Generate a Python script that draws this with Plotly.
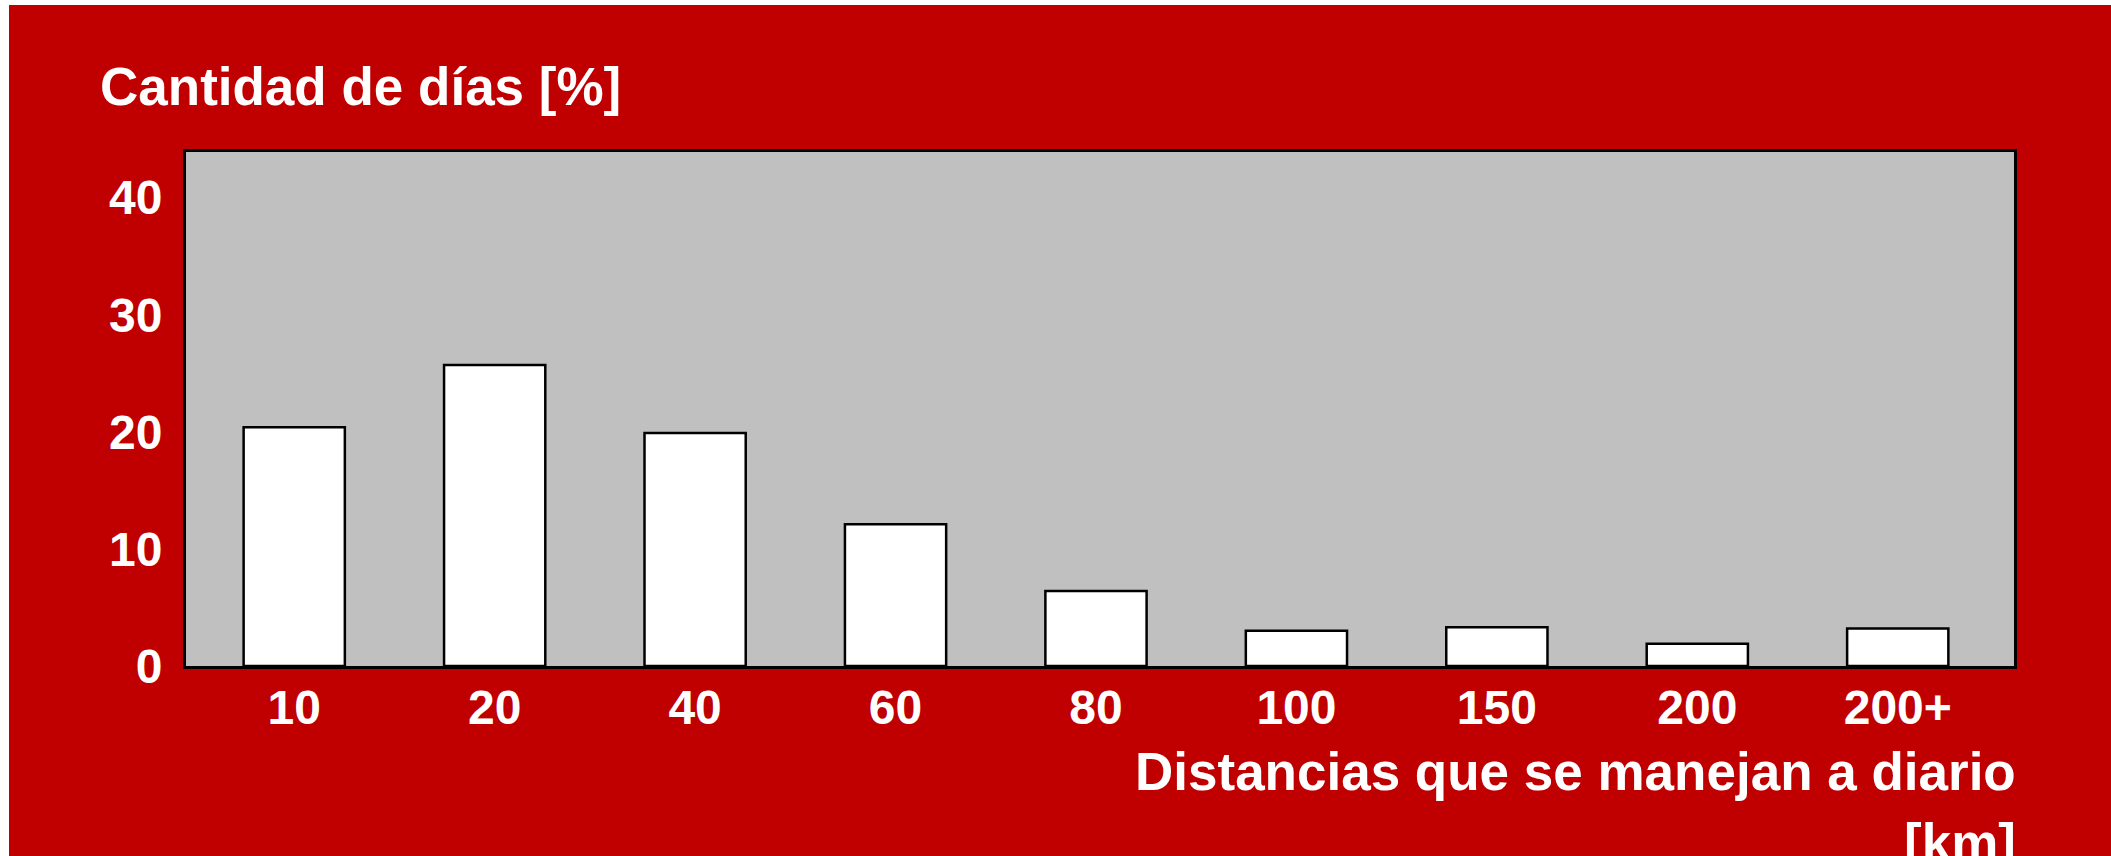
import plotly.graph_objects as go

# Distancia diaria recorrida (km) y porcentaje de días
categorias = ["10", "20", "40", "60", "80", "100", "150", "200", "200+"]
porcentaje_dias = [20.4, 25.7, 19.9, 12.1, 6.4, 3.0, 3.3, 1.9, 3.2]
ticks_y = [0, 10, 20, 30, 40]

titulo_y = "Cantidad de días [%]"
titulo_x_linea1 = "Distancias que se manejan a diario"
titulo_x_linea2 = "[km]"

ROJO = "#C00000"
GRIS = "#C0C0C0"
FUENTE = "Liberation Sans, Arial, sans-serif"

W, H = 2111, 856
ML, MR, MT, MB = 186, 97, 152, 190
PW, PH = W - ML - MR, H - MT - MB


def px_x(px):
    return (px - ML) / PW


def px_y(py):
    return (H - MB - py) / PH


fig = go.Figure(
    go.Bar(
        x=categorias,
        y=porcentaje_dias,
        width=0.505,
        marker=dict(color="white", line=dict(color="black", width=2.5)),
    )
)

fig.update_layout(
    width=W,
    height=H,
    margin=dict(l=ML, r=MR, t=MT, b=MB, pad=0),
    paper_bgcolor=ROJO,
    plot_bgcolor=GRIS,
    showlegend=False,
    font=dict(family=FUENTE, color="white", size=48),
)

fig.update_xaxes(
    type="category",
    range=[-0.54, 8.58],
    showline=True,
    mirror=True,
    linecolor="black",
    linewidth=3,
    showgrid=False,
    zeroline=False,
    ticks="",
    ticklabelstandoff=-3,
    tickfont=dict(family=FUENTE, size=48, color="white", weight="bold"),
)

fig.update_yaxes(
    range=[0, 43.9],
    tickvals=ticks_y,
    showline=True,
    mirror=True,
    linecolor="black",
    linewidth=3,
    showgrid=False,
    zeroline=False,
    ticks="",
    ticklabelstandoff=11,
    tickfont=dict(family=FUENTE, size=48, color="white", weight="bold"),
)

# Marco blanco fino a la izquierda y arriba del panel rojo
fig.add_shape(type="rect", xref="paper", yref="paper",
              x0=-1, x1=px_x(9), y0=-1, y1=3,
              fillcolor="white", line=dict(width=0), layer="above")
fig.add_shape(type="rect", xref="paper", yref="paper",
              x0=-1, x1=3, y0=px_y(5), y1=3,
              fillcolor="white", line=dict(width=0), layer="above")

titulo_font = dict(family=FUENTE, size=53, color="white", weight="bold")

fig.add_annotation(text=titulo_y, xref="paper", yref="paper",
                   x=px_x(98), y=px_y(86), xanchor="left", yanchor="middle",
                   showarrow=False, font=titulo_font)
fig.add_annotation(text=titulo_x_linea1, xref="paper", yref="paper",
                   x=px_x(2018), y=px_y(771), xanchor="right", yanchor="middle",
                   showarrow=False, font=titulo_font)
fig.add_annotation(text=titulo_x_linea2, xref="paper", yref="paper",
                   x=px_x(2018), y=px_y(842), xanchor="right", yanchor="middle",
                   showarrow=False, font=titulo_font)

fig.write_html("out.html")
